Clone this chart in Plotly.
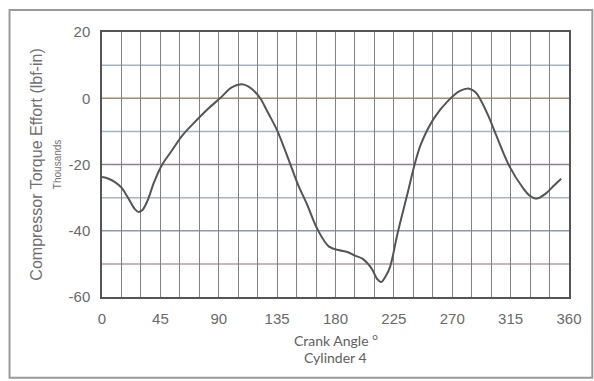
import plotly.graph_objects as go

# Compressor torque effort over one crank revolution, cylinder 4 (thousands of lbf-in)
crank_angle = [0, 5, 10, 15, 20, 25, 28, 31, 35, 40, 46, 54, 62, 70, 82, 91, 100, 108,
               113, 118, 122, 128, 135, 144, 151, 158, 166, 175, 183, 189, 195, 201,
               208, 212, 215, 219, 222, 228, 236, 241, 246, 256, 266, 276, 283, 288,
               292, 298, 304, 314, 324, 330, 335, 342, 348, 354]
torque = [-23.8, -24.3, -25.3, -27.0, -30.0, -33.3, -34.3, -33.8, -31.0, -25.5, -20.3,
          -15.7, -11.2, -7.8, -3.1, 0.0, 3.3, 4.2, 3.5, 1.9, 0.0, -4.4, -9.7, -18.7,
          -26.0, -32.0, -39.5, -44.8, -45.9, -46.4, -47.5, -48.5, -51.5, -54.5, -55.5,
          -53.5, -51.0, -40.5, -28.0, -20.0, -13.7, -6.0, -1.1, 2.2, 2.9, 1.8, -0.6,
          -5.5, -11.3, -20.5, -26.8, -29.5, -30.3, -28.8, -26.5, -24.3]

x_ticks = [0, 45, 90, 135, 180, 225, 270, 315, 360]
y_ticks = [20, 0, -20, -40, -60]

# horizontal grid levels and their pen colours
grid_levels = [10, 0, -10, -20, -30, -40, -50]
grid_colors = ["#9fb3c4", "#a68a6a", "#9fb3c4", "#8f7f96", "#a7b5c2", "#8d9aae", "#b19ca6"]

sans = "Liberation Sans, Arial, sans-serif"
axis_font = dict(family=sans, size=15, color="#6a6a6a")

fig = go.Figure()
fig.add_trace(go.Scatter(
    x=crank_angle, y=torque, mode="lines",
    line=dict(color="#555555", width=2, shape="spline", smoothing=1.0),
    hoverinfo="skip", showlegend=False,
))

shapes = []
for lvl, col in zip(grid_levels, grid_colors):
    shapes.append(dict(type="line", xref="paper", yref="y", x0=0, x1=1, y0=lvl, y1=lvl,
                       line=dict(color=col, width=1.5), layer="below"))
# outer frame of the chart sheet
shapes.append(dict(type="rect", xref="paper", yref="paper",
                   x0=-0.198, x1=1.05, y0=-0.305, y1=1.083,
                   line=dict(color="#9a9a9a", width=2), layer="below"))

fig.update_layout(
    width=594, height=381,
    margin=dict(l=102, r=17, t=32, b=84),
    paper_bgcolor="white", plot_bgcolor="white",
    shapes=shapes,
    xaxis=dict(range=[0, 360], tickvals=x_ticks, ticktext=[str(v) for v in x_ticks],
               showgrid=True, gridcolor="#828282", gridwidth=1.2,
               minor=dict(dtick=15, showgrid=True, gridcolor="#828282", gridwidth=1.2),
               showline=True, linecolor="#555555", linewidth=1.5, mirror=True,
               ticks="", ticklabelstandoff=7, tickfont=axis_font, zeroline=False,
               fixedrange=True),
    yaxis=dict(range=[-60, 20], tickvals=y_ticks, ticktext=[str(v) for v in y_ticks],
               showgrid=False, showline=True, linecolor="#555555", linewidth=1.5,
               mirror=True, ticks="", ticklabelstandoff=7, tickfont=axis_font,
               zeroline=False, fixedrange=True),
    annotations=[
        dict(text="Compressor Torque Effort (lbf-in)", xref="paper", yref="paper",
             x=-0.141, y=0.5, xanchor="center", yanchor="middle", textangle=-90,
             showarrow=False, font=dict(family=sans, size=16, color="#707070")),
        dict(text="Thousands", xref="paper", yref="paper",
             x=-0.095, y=0.5, xanchor="center", yanchor="middle", textangle=-90,
             showarrow=False, font=dict(family=sans, size=10, color="#707070")),
        dict(text="Crank Angle <sup>o</sup>", xref="paper", yref="paper",
             x=0.5, y=-0.162, xanchor="center", yanchor="middle", showarrow=False,
             font=dict(family="Lato, sans-serif", size=14, color="#606060")),
        dict(text="Cylinder 4", xref="paper", yref="paper",
             x=0.5, y=-0.23, xanchor="center", yanchor="middle", showarrow=False,
             font=dict(family="Lato, sans-serif", size=14, color="#606060")),
    ],
)

fig.write_html("out.html")
